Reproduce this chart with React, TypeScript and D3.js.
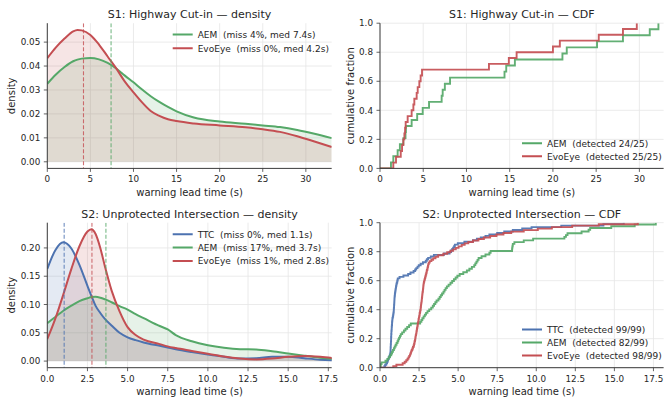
import React from 'react';
import * as d3 from 'd3';

const W = 664;
const H = 400;
const FONT = "'DejaVu Sans', sans-serif";
const TEXT = '#262626';
const SPINE = '#3c3c3c';
const GRID = '#e6e6e6';
const BLUE = '#4C72B0';
const GREEN = '#55A868';
const RED = '#C44E52';
const TICK_FS = 8.8;

// ---------------- Data ----------------
// S1 density
const S1_DENS_T = [0, 1, 2, 3, 3.5, 4, 5, 6, 7, 8, 9, 10, 11, 12, 13, 14, 15, 17, 20, 23, 25, 27, 29, 31, 33];
const S1_AEM_DENS = [0.0326, 0.0365, 0.0396, 0.042, 0.0427, 0.0431, 0.0434, 0.0428, 0.0413, 0.039, 0.036, 0.0332, 0.0302, 0.0274, 0.025, 0.0229, 0.0211, 0.0185, 0.0168, 0.0159, 0.0152, 0.0145, 0.0133, 0.0117, 0.0099];
const S1_EVO_DENS = [0.0433, 0.0478, 0.0515, 0.0545, 0.0551, 0.0549, 0.053, 0.049, 0.044, 0.039, 0.0335, 0.029, 0.0248, 0.0212, 0.0192, 0.0178, 0.017, 0.016, 0.0152, 0.0144, 0.0136, 0.0125, 0.0107, 0.0085, 0.0062];
const S1_MEDIANS = [7.4, 4.2];
const S1_DENS_LABELS = ['AEM  (miss 4%, med 7.4s)', 'EvoEye  (miss 0%, med 4.2s)'];

// S1 detection times (CDF)
const S1_AEM_TIMES = [1.27, 1.54, 2.04, 2.3, 2.7, 2.95, 3.0, 3.66, 4.3, 4.94, 5.67, 7.13, 7.25, 7.5, 8.1, 14.4, 14.6, 15.6, 21.1, 21.6, 25.1, 28.1, 31.2, 32.2];
const S1_EVO_TIMES = [1.54, 1.85, 2.4, 2.55, 2.7, 2.82, 2.9, 2.97, 3.2, 3.66, 3.86, 3.97, 4.24, 4.36, 4.55, 4.7, 4.86, 12.6, 14.9, 15.8, 20.0, 20.8, 25.3, 28.1, 29.7];
const S1_CDF_LABELS = ['AEM  (detected 24/25)', 'EvoEye  (detected 25/25)'];

// S2 density
const S2_DENS_T = [0, 0.5, 1, 1.5, 2, 2.5, 2.75, 3, 3.3, 3.6, 4, 4.5, 5, 5.5, 6, 7, 7.5, 8, 9, 10, 11, 12, 13, 14, 15, 16, 17, 17.8];
const S2_TTC_DENS = [0.163, 0.196, 0.21, 0.199, 0.17, 0.133, 0.115, 0.098, 0.085, 0.074, 0.063, 0.05, 0.042, 0.037, 0.033, 0.027, 0.024, 0.021, 0.016, 0.0115, 0.0075, 0.0045, 0.005, 0.0075, 0.0078, 0.005, 0.0025, 0.0015];
const S2_AEM_DENS = [0.067, 0.078, 0.089, 0.098, 0.106, 0.111, 0.1132, 0.1135, 0.112, 0.109, 0.104, 0.097, 0.091, 0.083, 0.076, 0.062, 0.056, 0.046, 0.035, 0.028, 0.0235, 0.021, 0.0205, 0.0175, 0.0135, 0.0095, 0.006, 0.004];
const S2_EVO_DENS = [0.039, 0.075, 0.118, 0.163, 0.203, 0.229, 0.233, 0.225, 0.2, 0.166, 0.125, 0.088, 0.06, 0.046, 0.038, 0.03, 0.026, 0.023, 0.018, 0.013, 0.008, 0.0045, 0.003, 0.0045, 0.0075, 0.009, 0.0075, 0.005];
const S2_MEDIANS = [1.05, 3.65, 2.78];
const S2_DENS_LABELS = ['TTC  (miss 0%, med 1.1s)', 'AEM  (miss 17%, med 3.7s)', 'EvoEye  (miss 1%, med 2.8s)'];

// S2 detection times (CDF)
const S2_TTC_TIMES = [
  0.28, 0.33, 0.4, 0.45, 0.49, 0.52, 0.56, 0.6, 0.63, 0.66,
  0.67, 0.675, 0.68, 0.68, 0.69, 0.69, 0.7, 0.7, 0.71, 0.71,
  0.71, 0.72, 0.72, 0.73, 0.73, 0.74, 0.75, 0.75, 0.76, 0.77,
  0.77, 0.78, 0.79, 0.8, 0.82, 0.84, 0.85, 0.87, 0.88, 0.885,
  0.89, 0.9, 0.9, 0.91, 0.915, 0.92, 0.925, 0.93, 0.94, 0.95,
  0.96, 0.97, 0.99, 1.0, 1.02, 1.03, 1.05, 1.07, 1.1, 1.12,
  1.14, 1.25, 1.5, 1.8, 1.95, 2.15, 2.25, 2.32, 2.4, 2.48,
  2.6, 2.75, 2.93, 3.0, 3.08, 3.25, 3.45, 4.1, 4.45, 4.55,
  4.62, 4.68, 4.74, 4.79, 4.98, 5.4, 5.95, 6.2, 6.45, 6.75,
  7.0, 7.5, 7.95, 8.5, 9.1, 9.7, 11.6, 14.3, 15.6,
];
const S2_AEM_TIMES = [
  0.02, 0.05, 0.1, 0.35, 0.47, 0.56, 0.64, 0.72, 0.77, 0.83,
  0.89, 0.94, 1.0, 1.06, 1.12, 1.17, 1.22, 1.28, 1.33, 1.42,
  1.53, 1.63, 1.74, 1.86, 1.97, 2.57, 2.65, 2.71, 2.79, 2.87,
  2.95, 3.04, 3.15, 3.28, 3.38, 3.46, 3.54, 3.62, 3.74, 3.82,
  3.89, 3.97, 4.06, 4.13, 4.2, 4.28, 4.39, 4.51, 4.62, 4.73,
  4.84, 4.95, 5.1, 5.33, 5.56, 5.72, 5.88, 6.03, 6.1, 6.17,
  6.24, 6.31, 6.5, 6.75, 7.0, 7.08, 8.45, 8.46, 8.48, 8.5,
  8.6, 9.2, 9.8, 11.8, 11.9, 12.0, 12.9, 13.35, 13.45, 14.8,
  16.3, 17.65,
];
const S2_EVO_TIMES = [
  0.85, 1.05, 1.45, 1.58, 1.68, 1.76, 1.82, 1.87, 1.92, 1.96,
  1.99, 2.03, 2.07, 2.11, 2.15, 2.18, 2.2, 2.22, 2.24, 2.26,
  2.27, 2.29, 2.31, 2.33, 2.34, 2.36, 2.37, 2.39, 2.41, 2.42,
  2.44, 2.46, 2.47, 2.49, 2.51, 2.53, 2.54, 2.56, 2.58, 2.6,
  2.61, 2.62, 2.63, 2.64, 2.66, 2.67, 2.68, 2.69, 2.7, 2.71,
  2.72, 2.74, 2.75, 2.76, 2.77, 2.78, 2.79, 2.81, 2.83, 2.86,
  2.88, 2.91, 2.93, 2.96, 2.98, 3.0, 3.03, 3.05, 3.07, 3.09,
  3.12, 3.18, 3.29, 3.4, 3.55, 3.72, 4.05, 4.3, 4.5, 4.68,
  4.85, 5.03, 5.23, 5.42, 5.65, 5.95, 6.3, 6.65, 7.05, 7.45,
  7.9, 8.4, 9.2, 10.1, 11.0, 12.3, 14.0, 16.5,
];
const S2_CDF_LABELS = ['TTC  (detected 99/99)', 'AEM  (detected 82/99)', 'EvoEye  (detected 98/99)'];

// Tick values
const S1_X_TICKS = [0, 5, 10, 15, 20, 25, 30];
const S1_DENS_Y_TICKS = [0, 0.01, 0.02, 0.03, 0.04, 0.05];
const S2_X_TICKS = [0, 2.5, 5, 7.5, 10, 12.5, 15, 17.5];
const S2_DENS_Y_TICKS = [0, 0.05, 0.1, 0.15, 0.2];
const CDF_Y_TICKS = [0, 0.2, 0.4, 0.6, 0.8, 1.0];

// ---------------- Layout ----------------
type Box = { x0: number; x1: number; y0: number; y1: number };
const LEFT = { x0: 47.3, x1: 331.7 };
const RIGHT = { x0: 380.0, x1: 663.6 };
const TOP = { y0: 23.2, y1: 168.4 };
const BOTTOM = { y0: 222.7, y1: 367.7 };

type AxesProps = {
  id: string;
  box: Box;
  x: d3.ScaleLinear<number, number>;
  y: d3.ScaleLinear<number, number>;
  xTicks: number[];
  yTicks: number[];
  xFmt: (v: number) => string;
  yFmt: (v: number) => string;
  title: string;
  yLabel: string;
  yLabelX: number;
  children?: React.ReactNode;
};

function Axes({ id, box, x, y, xTicks, yTicks, xFmt, yFmt, title, yLabel, yLabelX, children }: AxesProps) {
  const cy = (box.y0 + box.y1) / 2;
  return (
    <g>
      <defs>
        <clipPath id={id}>
          <rect x={box.x0} y={box.y0} width={box.x1 - box.x0} height={box.y1 - box.y0} />
        </clipPath>
      </defs>
      {xTicks.map((t) => (
        <line key={'gx' + t} x1={x(t)} x2={x(t)} y1={box.y0} y2={box.y1} stroke={GRID} strokeWidth={0.8} />
      ))}
      {yTicks.map((t) => (
        <line key={'gy' + t} x1={box.x0} x2={box.x1} y1={y(t)} y2={y(t)} stroke={GRID} strokeWidth={0.8} />
      ))}
      <g clipPath={`url(#${id})`}>{children}</g>
      <line x1={box.x0} x2={box.x0} y1={box.y0} y2={box.y1} stroke={SPINE} strokeWidth={1} />
      <line x1={box.x0} x2={box.x1} y1={box.y1} y2={box.y1} stroke={SPINE} strokeWidth={1} />
      {xTicks.map((t) => (
        <g key={'tx' + t}>
          <line x1={x(t)} x2={x(t)} y1={box.y1} y2={box.y1 + 3.5} stroke={SPINE} strokeWidth={0.8} />
          <text x={x(t)} y={box.y1 + 14} textAnchor="middle" fontSize={TICK_FS} fill={TEXT} fontFamily={FONT}>
            {xFmt(t)}
          </text>
        </g>
      ))}
      {yTicks.map((t) => (
        <g key={'ty' + t}>
          <line x1={box.x0 - 3.5} x2={box.x0} y1={y(t)} y2={y(t)} stroke={SPINE} strokeWidth={0.8} />
          <text x={box.x0 - 7} y={y(t) + 3.2} textAnchor="end" fontSize={TICK_FS} fill={TEXT} fontFamily={FONT}>
            {yFmt(t)}
          </text>
        </g>
      ))}
      <text x={(box.x0 + box.x1) / 2} y={box.y0 - 5} textAnchor="middle" fontSize={11} fill={TEXT} fontFamily={FONT}>
        {title}
      </text>
      <text x={(box.x0 + box.x1) / 2} y={box.y1 + 27.2} textAnchor="middle" fontSize={10} fill={TEXT} fontFamily={FONT}>
        warning lead time (s)
      </text>
      <text
        transform={`translate(${yLabelX},${cy}) rotate(-90)`}
        textAnchor="middle"
        dominantBaseline="central"
        fontSize={10}
        fill={TEXT}
        fontFamily={FONT}
      >
        {yLabel}
      </text>
    </g>
  );
}

type DensSeries = { color: string; values: number[]; median: number; label: string };

function Legend({ x, y, dy, items }: { x: number; y: number; dy: number; items: { color: string; label: string }[] }) {
  return (
    <g>
      {items.map((it, i) => (
        <g key={i}>
          <line x1={x} x2={x + 20} y1={y + i * dy} y2={y + i * dy} stroke={it.color} strokeWidth={2} />
          <text
            x={x + 25}
            y={y + i * dy + 3.2}
            fontSize={9}
            fill={TEXT}
            fontFamily={FONT}
            style={{ whiteSpace: 'pre' }}
          >
            {it.label}
          </text>
        </g>
      ))}
    </g>
  );
}

function DensityPanel(props: {
  id: string;
  box: Box;
  xDomain: [number, number];
  yDomain: [number, number];
  t: number[];
  series: DensSeries[];
  xTicks: number[];
  yTicks: number[];
  xFmt: (v: number) => string;
  yFmt: (v: number) => string;
  title: string;
  legendY: number;
  legendDy: number;
}) {
  const { box } = props;
  const x = d3.scaleLinear().domain(props.xDomain).range([box.x0, box.x1]);
  const y = d3.scaleLinear().domain(props.yDomain).range([box.y1, box.y0]);
  const area = d3
    .area<[number, number]>()
    .x((d) => x(d[0]))
    .y0(y(0))
    .y1((d) => y(d[1]))
    .curve(d3.curveMonotoneX);
  const line = d3
    .line<[number, number]>()
    .x((d) => x(d[0]))
    .y((d) => y(d[1]))
    .curve(d3.curveMonotoneX);
  return (
    <Axes
      id={props.id}
      box={box}
      x={x}
      y={y}
      xTicks={props.xTicks}
      yTicks={props.yTicks}
      xFmt={props.xFmt}
      yFmt={props.yFmt}
      title={props.title}
      yLabel="density"
      yLabelX={11.7}
    >
      {props.series.map((s, i) => {
        const pts = props.t.map((t, k) => [t, s.values[k]] as [number, number]);
        return <path key={'a' + i} d={area(pts) || ''} fill={s.color} fillOpacity={0.15} stroke="none" />;
      })}
      {props.series.map((s, i) => {
        const pts = props.t.map((t, k) => [t, s.values[k]] as [number, number]);
        return <path key={'l' + i} d={line(pts) || ''} fill="none" stroke={s.color} strokeWidth={2} />;
      })}
      {props.series.map((s, i) => (
        <line
          key={'m' + i}
          x1={x(s.median)}
          x2={x(s.median)}
          y1={box.y0}
          y2={box.y1}
          stroke={s.color}
          strokeWidth={1.1}
          strokeDasharray="4,2"
          strokeOpacity={0.8}
        />
      ))}
      <Legend x={box.x1 - 159} y={props.legendY} dy={props.legendDy} items={props.series} />
    </Axes>
  );
}

type CdfSeries = { color: string; times: number[]; label: string };

function CdfPanel(props: {
  id: string;
  box: Box;
  xDomain: [number, number];
  series: CdfSeries[];
  xTicks: number[];
  xFmt: (v: number) => string;
  title: string;
  legendY: number;
}) {
  const { box } = props;
  const x = d3.scaleLinear().domain(props.xDomain).range([box.x0, box.x1]);
  const y = d3.scaleLinear().domain([0, 1]).range([box.y1, box.y0]);
  const line = d3
    .line<[number, number]>()
    .x((d) => x(d[0]))
    .y((d) => y(d[1]))
    .curve(d3.curveStepAfter);
  return (
    <Axes
      id={props.id}
      box={box}
      x={x}
      y={y}
      xTicks={props.xTicks}
      yTicks={CDF_Y_TICKS}
      xFmt={props.xFmt}
      yFmt={d3.format('.1f')}
      title={props.title}
      yLabel="cumulative fraction"
      yLabelX={350.3}
    >
      {props.series.map((s, i) => {
        const sorted = [...s.times].sort((a, b) => a - b);
        const n = sorted.length;
        const pts: [number, number][] = [[0, 0], ...sorted.map((t, k) => [t, (k + 1) / n] as [number, number])];
        return (
          <path key={i} d={line(pts) || ''} fill="none" stroke={s.color} strokeWidth={1.9} strokeOpacity={0.92} />
        );
      })}
      <Legend x={522} y={props.legendY} dy={13} items={props.series} />
    </Axes>
  );
}

export default function App() {
  const intFmt = (v: number) => String(v);
  const f1 = d3.format('.1f');
  const f2 = d3.format('.2f');
  return (
    <svg
      width={W}
      height={H}
      viewBox={`0 0 ${W} ${H}`}
      style={{ position: 'absolute', left: 0, top: 0, background: '#fff' }}
    >
      <rect x={0} y={0} width={W} height={H} fill="#fff" />
      <DensityPanel
        id="c1"
        box={{ ...LEFT, ...TOP }}
        xDomain={[0, 33]}
        yDomain={[-0.00276, 0.0579]}
        t={S1_DENS_T}
        series={[
          { color: GREEN, values: S1_AEM_DENS, median: S1_MEDIANS[0], label: S1_DENS_LABELS[0] },
          { color: RED, values: S1_EVO_DENS, median: S1_MEDIANS[1], label: S1_DENS_LABELS[1] },
        ]}
        xTicks={S1_X_TICKS}
        yTicks={S1_DENS_Y_TICKS}
        xFmt={intFmt}
        yFmt={f2}
        title="S1: Highway Cut-in — density"
        legendY={34.5}
        legendDy={13.8}
      />
      <CdfPanel
        id="c2"
        box={{ ...RIGHT, ...TOP }}
        xDomain={[0, 32.8]}
        series={[
          { color: GREEN, times: S1_AEM_TIMES, label: S1_CDF_LABELS[0] },
          { color: RED, times: S1_EVO_TIMES, label: S1_CDF_LABELS[1] },
        ]}
        xTicks={S1_X_TICKS}
        xFmt={intFmt}
        title="S1: Highway Cut-in — CDF"
        legendY={143.3}
      />
      <DensityPanel
        id="c3"
        box={{ ...LEFT, ...BOTTOM }}
        xDomain={[0, 17.71]}
        yDomain={[-0.0117, 0.2446]}
        t={S2_DENS_T}
        series={[
          { color: BLUE, values: S2_TTC_DENS, median: S2_MEDIANS[0], label: S2_DENS_LABELS[0] },
          { color: GREEN, values: S2_AEM_DENS, median: S2_MEDIANS[1], label: S2_DENS_LABELS[1] },
          { color: RED, values: S2_EVO_DENS, median: S2_MEDIANS[2], label: S2_DENS_LABELS[2] },
        ]}
        xTicks={S2_X_TICKS}
        yTicks={S2_DENS_Y_TICKS}
        xFmt={f1}
        yFmt={f2}
        title="S2: Unprotected Intersection — density"
        legendY={234.3}
        legendDy={13.3}
      />
      <CdfPanel
        id="c4"
        box={{ ...RIGHT, ...BOTTOM }}
        xDomain={[0, 18.15]}
        series={[
          { color: BLUE, times: S2_TTC_TIMES, label: S2_CDF_LABELS[0] },
          { color: GREEN, times: S2_AEM_TIMES, label: S2_CDF_LABELS[1] },
          { color: RED, times: S2_EVO_TIMES, label: S2_CDF_LABELS[2] },
        ]}
        xTicks={S2_X_TICKS}
        xFmt={f1}
        title="S2: Unprotected Intersection — CDF"
        legendY={329.5}
      />
    </svg>
  );
}
